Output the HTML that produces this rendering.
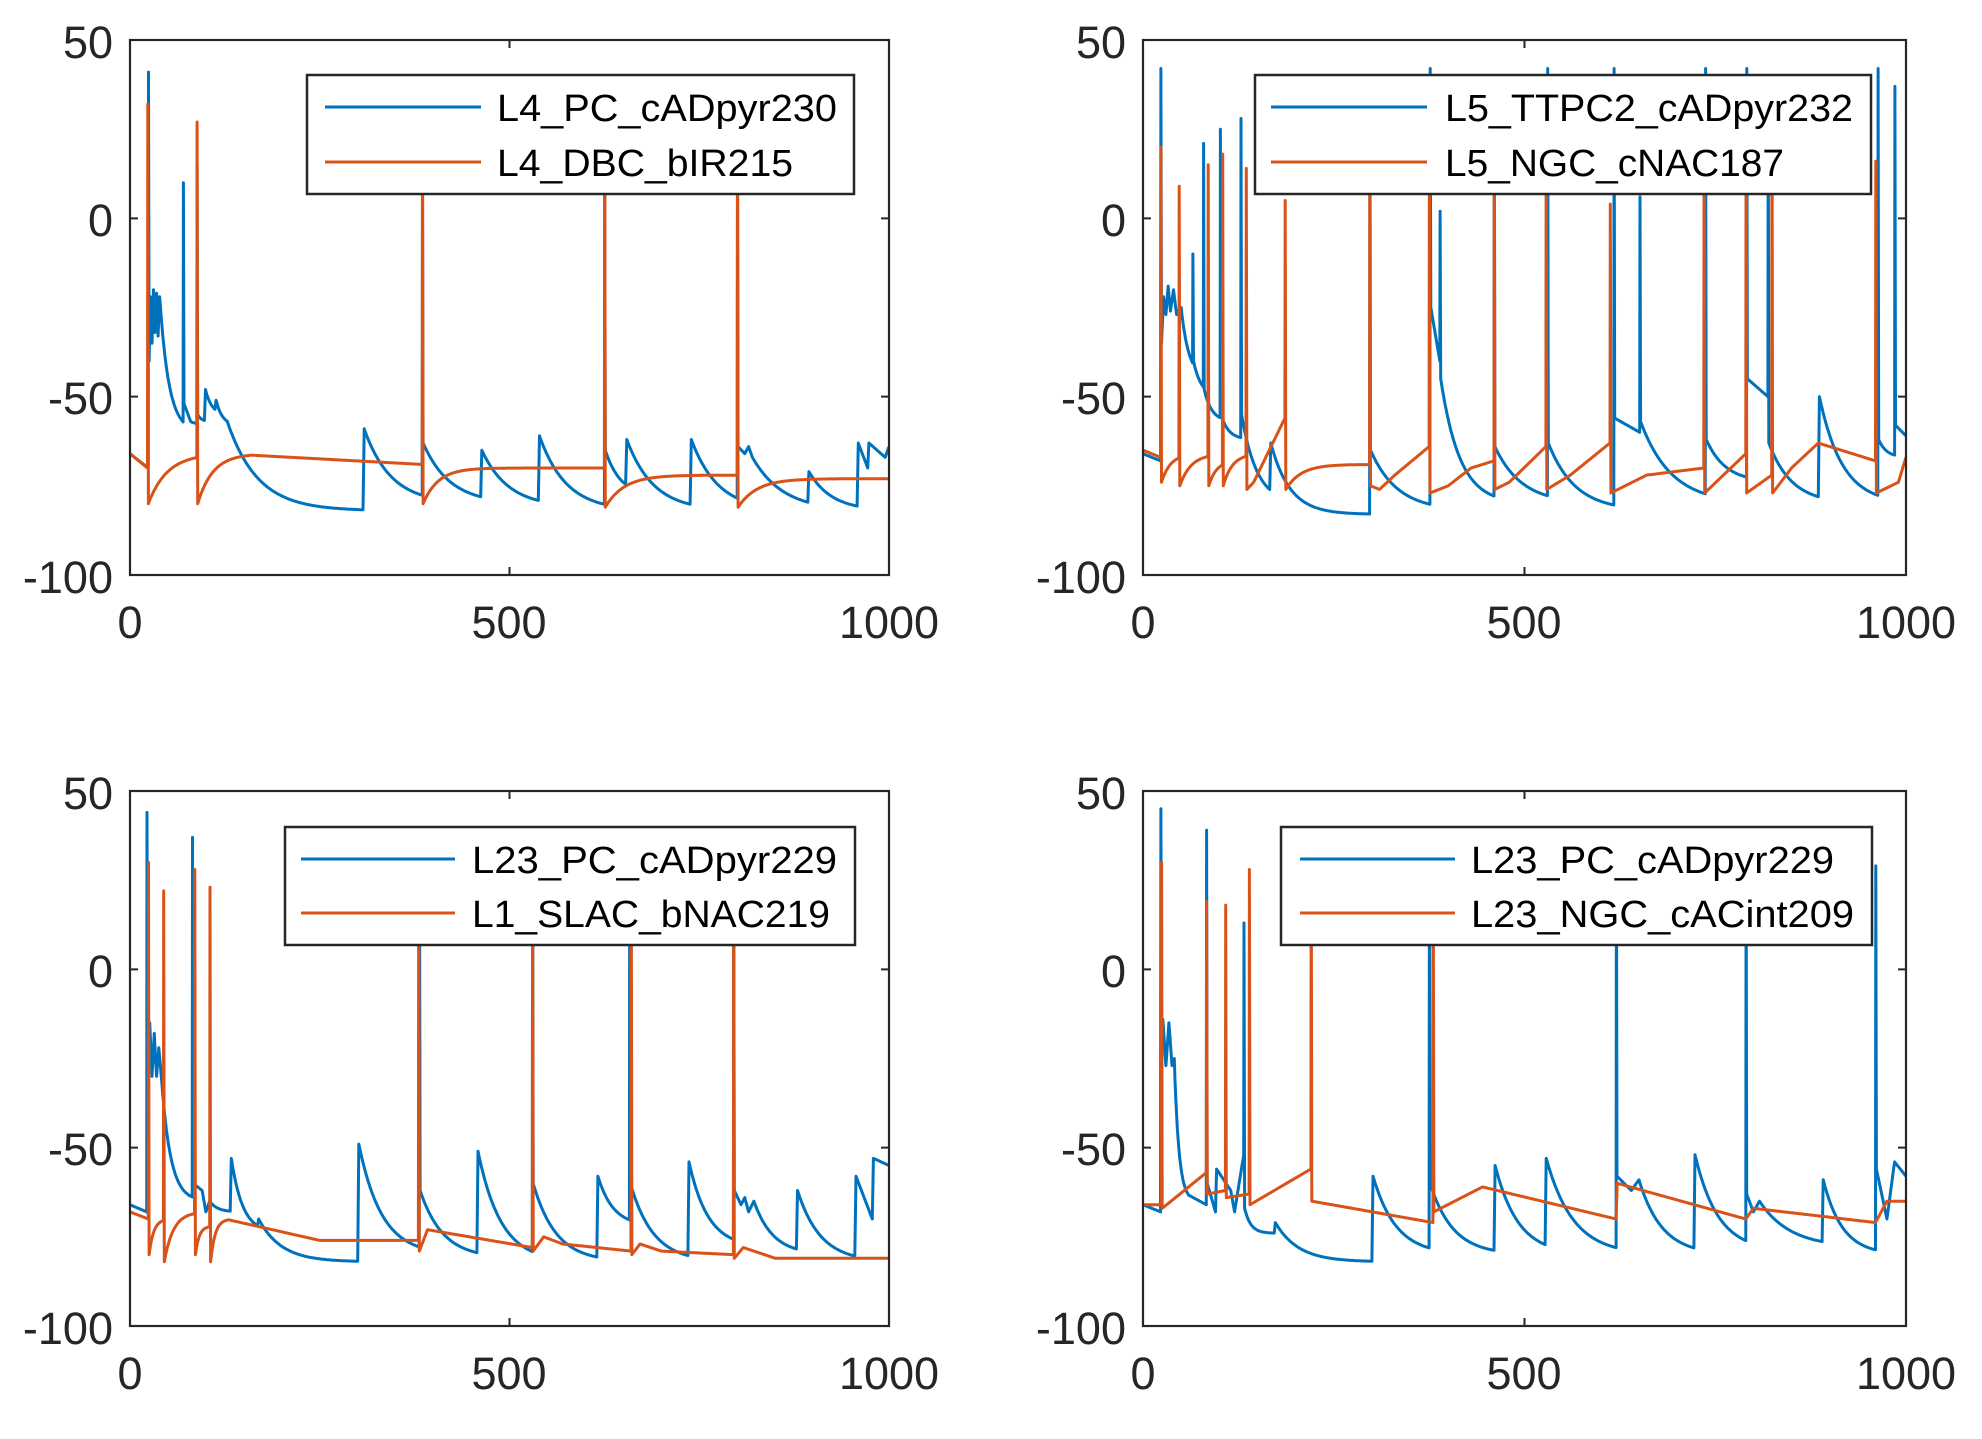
<!DOCTYPE html>
<html><head><meta charset="utf-8">
<style>html,body{margin:0;padding:0;background:#fff;}svg{display:block;}</style>
</head><body>
<svg id="s" width="1982" height="1439" xmlns="http://www.w3.org/2000/svg" font-family="'Liberation Sans', 'DejaVu Sans', sans-serif">
<rect width="1982" height="1439" fill="#fff"/>
<defs>
<clipPath id="c0"><rect x="130" y="40" width="759" height="535"/></clipPath>
<clipPath id="c1"><rect x="1143" y="40" width="763" height="535"/></clipPath>
<clipPath id="c2"><rect x="130" y="791" width="759" height="535"/></clipPath>
<clipPath id="c3"><rect x="1143" y="791" width="763" height="535"/></clipPath>
</defs>
<g id="plots"></g>
<g id="axes" fill="#262626" font-size="45">
<text x="113" y="58" text-anchor="end">50</text>
<text x="113" y="236" text-anchor="end">0</text>
<text x="113" y="414" text-anchor="end">-50</text>
<text x="113" y="593" text-anchor="end">-100</text>
<text x="1126" y="58" text-anchor="end">50</text>
<text x="1126" y="236" text-anchor="end">0</text>
<text x="1126" y="414" text-anchor="end">-50</text>
<text x="1126" y="593" text-anchor="end">-100</text>
<text x="113" y="809" text-anchor="end">50</text>
<text x="113" y="987" text-anchor="end">0</text>
<text x="113" y="1165" text-anchor="end">-50</text>
<text x="113" y="1344" text-anchor="end">-100</text>
<text x="1126" y="809" text-anchor="end">50</text>
<text x="1126" y="987" text-anchor="end">0</text>
<text x="1126" y="1165" text-anchor="end">-50</text>
<text x="1126" y="1344" text-anchor="end">-100</text>
<text x="130" y="638" text-anchor="middle">0</text>
<text x="509" y="638" text-anchor="middle">500</text>
<text x="889" y="638" text-anchor="middle">1000</text>
<text x="1143" y="638" text-anchor="middle">0</text>
<text x="1524" y="638" text-anchor="middle">500</text>
<text x="1906" y="638" text-anchor="middle">1000</text>
<text x="130" y="1389" text-anchor="middle">0</text>
<text x="509" y="1389" text-anchor="middle">500</text>
<text x="889" y="1389" text-anchor="middle">1000</text>
<text x="1143" y="1389" text-anchor="middle">0</text>
<text x="1524" y="1389" text-anchor="middle">500</text>
<text x="1906" y="1389" text-anchor="middle">1000</text>
</g>
<g id="legends" font-size="38" fill="#000">
<rect x="307" y="75" width="547" height="119" fill="#fff" stroke="#262626" stroke-width="2.5"/>
<line x1="325" y1="107" x2="481" y2="107" stroke="#0072BD" stroke-width="3"/>
<line x1="325" y1="162" x2="481" y2="162" stroke="#D95319" stroke-width="3"/>
<text x="497" y="121" textLength="340" lengthAdjust="spacingAndGlyphs">L4_PC_cADpyr230</text>
<text x="497" y="176" textLength="296" lengthAdjust="spacingAndGlyphs">L4_DBC_bIR215</text>

<rect x="1255" y="75" width="616" height="119" fill="#fff" stroke="#262626" stroke-width="2.5"/>
<line x1="1271" y1="107" x2="1427" y2="107" stroke="#0072BD" stroke-width="3"/>
<line x1="1271" y1="162" x2="1427" y2="162" stroke="#D95319" stroke-width="3"/>
<text x="1445" y="121" textLength="408" lengthAdjust="spacingAndGlyphs">L5_TTPC2_cADpyr232</text>
<text x="1445" y="176" textLength="339" lengthAdjust="spacingAndGlyphs">L5_NGC_cNAC187</text>

<rect x="285" y="827" width="570" height="118" fill="#fff" stroke="#262626" stroke-width="2.5"/>
<line x1="301" y1="859" x2="455" y2="859" stroke="#0072BD" stroke-width="3"/>
<line x1="301" y1="913" x2="455" y2="913" stroke="#D95319" stroke-width="3"/>
<text x="472" y="873" textLength="365" lengthAdjust="spacingAndGlyphs">L23_PC_cADpyr229</text>
<text x="472" y="927" textLength="358" lengthAdjust="spacingAndGlyphs">L1_SLAC_bNAC219</text>

<rect x="1281" y="827" width="591" height="118" fill="#fff" stroke="#262626" stroke-width="2.5"/>
<line x1="1300" y1="859" x2="1455" y2="859" stroke="#0072BD" stroke-width="3"/>
<line x1="1300" y1="913" x2="1455" y2="913" stroke="#D95319" stroke-width="3"/>
<text x="1471" y="873" textLength="363" lengthAdjust="spacingAndGlyphs">L23_PC_cADpyr229</text>
<text x="1471" y="927" textLength="383" lengthAdjust="spacingAndGlyphs">L23_NGC_cACint209</text>
</g>
</svg>
<script>
(function(){
var NS="http://www.w3.org/2000/svg";
var AX=[[130,40,759,535],[1143,40,763,535],[130,791,759,535],[1143,791,763,535]];
function L(t,v){return['l',t,v];}function R(t,g,tau){return['r',t,g,tau];}
function S(p,a){return['s',p,a];}function J(v){return['j',v];}
function sim(v0,cmds){var t=0,v=v0,pts=[[0,v0]];
 cmds.forEach(function(c){
  if(c[0]=='l'){var t0=t,v1=v,n=Math.max(1,Math.ceil((c[1]-t0)/1));for(var i=1;i<=n;i++){pts.push([t0+(c[1]-t0)*i/n,v1+(c[2]-v1)*i/n]);}t=c[1];v=c[2];}
  else if(c[0]=='r'){while(t<c[1]){var d=Math.min(1,c[1]-t);t+=d;v=c[2]+(v-c[2])*Math.exp(-d/c[3]);pts.push([t,v]);}}
  else if(c[0]=='s'){pts.push([t+0.4,c[1]]);t+=1.2;v=c[2];pts.push([t,v]);}
  else if(c[0]=='j'){t+=1.5;v=c[1];pts.push([t,v]);}
 });return pts;}
var B=[
[-66,[L(24,-70),S(41,-40),L(27,-22),L(29,-35),L(31,-20),L(33,-32),L(35,-21),L(37,-33),L(39,-22),L(42,-30),R(70,-60,12),S(10,-52),L(80,-57),R(88,-58,10),S(15,-55),R(98,-57,5),J(-48),R(112,-55,8),J(-51),R(128,-58,8),R(307,-82,40),J(-59),R(385,-80,35),S(5,-63),R(462,-80,35),J(-65),R(538,-81,35),J(-61),R(625,-82,35),S(10,-65),R(653,-78,20),J(-62),R(738,-82,35),J(-62),R(800,-82,35),S(10,-64),L(810,-66),L(815,-64),L(820,-67),R(893,-82,40),J(-71),R(958,-82,30),J(-63),L(972,-70),J(-63),L(995,-67),L(1000,-64)]],
[-66,[L(23,-68),S(42,-35),L(27,-22),L(30,-27),L(33,-19),L(36,-26),L(40,-20),L(44,-27),L(50,-25),R(65,-45,10),S(-10,-40),R(79,-50,10),S(21,-48),R(101,-57,10),S(25,-55),R(128,-62,10),S(28,-55),R(166,-80,20),J(-63),R(297,-83,25),S(38,-65),R(376,-82,35),S(42,-25),L(389,-40),S(2,-45),R(460,-80,25),S(38,-64),R(530,-80,35),S(42,-63),R(617,-82,35),S(42,-56),L(651,-60),S(6,-57),R(737,-80,40),S(42,-62),R(791,-74,25),S(42,-45),L(819,-50),S(38,-63),R(885,-80,30),J(-50),R(963,-80,30),S(42,-62),R(985,-67,10),S(37,-58),L(1000,-61)]],
[-66,[L(22,-68),S(44,-30),L(26,-15),L(29,-30),L(32,-18),L(35,-30),L(38,-22),L(42,-32),R(82,-65,12),S(37,-60),L(95,-62),L(100,-68),L(105,-65),R(132,-68,10),J(-53),R(168,-74,15),J(-70),R(300,-82,30),J(-49),R(381,-80,30),S(38,-62),R(457,-81,30),J(-51),R(530,-82,30),S(38,-60),R(615,-82,30),J(-58),R(658,-72,20),S(38,-60),R(735,-82,30),J(-54),R(795,-78,25),S(38,-62),L(805,-66),L(810,-64),L(815,-68),L(822,-65),R(878,-80,25),J(-62),R(955,-82,30),J(-58),L(978,-70),J(-53),L(1000,-55)]],
[-66,[L(23,-68),S(45,-20),L(26,-14),L(30,-27),L(34,-15),L(38,-27),L(41,-25),R(60,-65,6),L(83,-66),S(39,-60),L(95,-68),J(-56),L(115,-62),L(120,-68),L(132,-52),S(13,-67),R(172,-74,8),J(-71),R(300,-82,30),J(-58),R(375,-80,30),S(38,-60),R(460,-80,30),J(-55),R(527,-80,30),J(-53),R(620,-80,35),S(38,-58),L(640,-62),L(650,-59),R(722,-80,30),J(-52),R(790,-79,30),S(38,-63),L(800,-68),L(808,-65),R(890,-78,40),J(-59),R(960,-80,25),S(29,-56),L(975,-70),L(985,-54),L(1000,-58)]]
];
var O=[
[-66,[L(23,-70),S(32,-80),R(88,-66,25),S(27,-80),R(160,-66,20),L(385,-69),S(38,-80),R(625,-70,20),S(38,-81),R(800,-72,25),S(38,-81),R(1000,-73,25)]],
[-65,[L(23,-67),S(20,-74),R(47,-66,12),S(9,-75),R(85,-66,15),S(15,-75),R(104,-68,10),S(18,-75),R(135,-66,12),S(14,-76),L(145,-74),L(186,-56),S(5,-76),R(297,-69,20),S(38,-75),L(310,-76),L(330,-72),L(375,-64),S(38,-77),L(400,-75),L(430,-70),L(460,-68),S(38,-76),L(480,-74),L(528,-64),S(38,-76),L(560,-72),L(612,-63),S(4,-77),L(660,-72),L(735,-70),S(38,-77),L(790,-66),S(38,-77),L(824,-72),S(38,-77),L(850,-70),L(885,-63),L(960,-68),S(16,-77),L(990,-74),L(1000,-67)]],
[-68,[L(24,-70),S(30,-80),R(44,-70,6),S(22,-82),R(85,-68,12),S(28,-80),R(105,-72,5),S(23,-82),R(130,-70,6),L(250,-76),L(380,-76),S(38,-79),L(392,-73),L(530,-78),S(38,-79),L(545,-75),L(570,-77),L(660,-79),S(38,-80),L(672,-77),L(700,-79),L(795,-80),S(38,-81),L(808,-78),L(850,-81),L(1000,-81)]],
[-66,[L(24,-66),S(30,-67),L(83,-57),S(19,-63),L(108,-62),S(18,-64),L(139,-63),S(28,-66),L(220,-56),S(38,-65),L(380,-71),S(38,-68),L(445,-61),L(620,-70),J(-60),L(790,-70),L(800,-67),L(960,-71),L(975,-65),L(1000,-65)]]
];
var g=document.getElementById('plots');
function path(i,pts,col){var a=AX[i],d='';pts.forEach(function(p,k){var x=a[0]+p[0]/1000*a[2],y=a[1]+(50-p[1])/150*a[3];d+=(k?'L':'M')+x.toFixed(1)+' '+y.toFixed(1);});
 var e=document.createElementNS(NS,'path');e.setAttribute('d',d);e.setAttribute('fill','none');e.setAttribute('stroke',col);e.setAttribute('stroke-width','3');e.setAttribute('stroke-linejoin','round');e.setAttribute('clip-path','url(#c'+i+')');g.appendChild(e);}
for(var i=0;i<4;i++){path(i,sim(B[i][0],B[i][1]),'#0072BD');path(i,sim(O[i][0],O[i][1]),'#D95319');
 var a=AX[i],r=document.createElementNS(NS,'rect');r.setAttribute('x',a[0]);r.setAttribute('y',a[1]);r.setAttribute('width',a[2]);r.setAttribute('height',a[3]);r.setAttribute('fill','none');r.setAttribute('stroke','#262626');r.setAttribute('stroke-width','2.2');g.appendChild(r);
 var d='';[0,0.5,1].forEach(function(f){var x=a[0]+f*a[2];d+='M'+x+' '+(a[1]+a[3])+'v-8M'+x+' '+a[1]+'v8';});
 [0,1/3,2/3,1].forEach(function(f){var y=a[1]+f*a[3];d+='M'+a[0]+' '+y+'h8M'+(a[0]+a[2])+' '+y+'h-8';});
 var t=document.createElementNS(NS,'path');t.setAttribute('d',d);t.setAttribute('stroke','#262626');t.setAttribute('stroke-width','2');g.appendChild(t);}
})();
</script>
</body></html>
